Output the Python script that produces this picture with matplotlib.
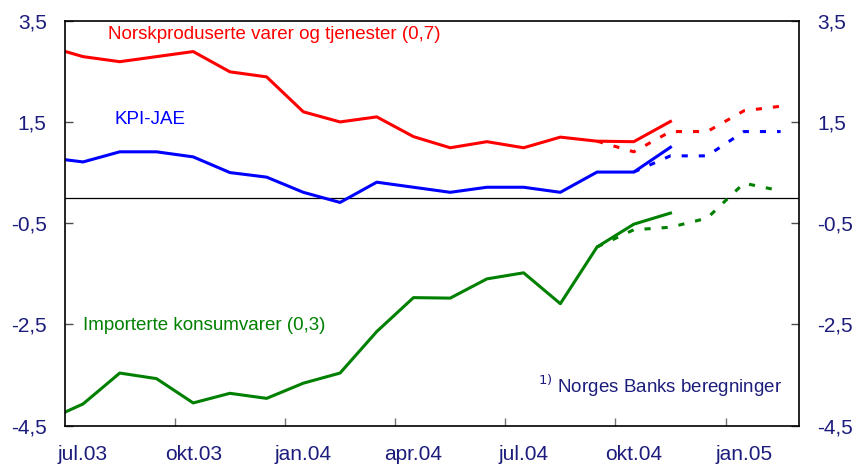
"""
KPI-JAE med delindekser: norskproduserte varer og tjenester og importerte
konsumvarer. Heltrukket = faktisk, prikket = anslag.
"""
import matplotlib.pyplot as plt
import numpy as np

plt.rcParams['font.family'] = ['Liberation Sans', 'DejaVu Sans']

# måneder (jun.03 ligger utenfor aksen og blir klippet)
months = ['jun.03', 'jul.03', 'aug.03', 'sep.03', 'okt.03', 'nov.03', 'des.03',
          'jan.04', 'feb.04', 'mar.04', 'apr.04', 'mai.04', 'jun.04', 'jul.04',
          'aug.04', 'sep.04', 'okt.04', 'nov.04', 'des.04', 'jan.05', 'feb.05']

norsk = [3.00, 2.79, 2.69, 2.79, 2.89, 2.49, 2.39, 1.70, 1.50, 1.60, 1.21,
         0.99, 1.11, 0.99, 1.20, 1.12, 1.11, 1.51]
kpi_jae = [0.80, 0.71, 0.91, 0.91, 0.81, 0.50, 0.41, 0.11, -0.09, 0.31, 0.21,
           0.11, 0.21, 0.21, 0.11, 0.51, 0.51, 1.00]
import_ = [-4.40, -4.07, -3.46, -3.57, -4.05, -3.86, -3.96, -3.66, -3.46, -2.64,
           -1.97, -1.98, -1.60, -1.48, -2.09, -0.97, -0.52, -0.30]

# anslag
norsk_proj_start, norsk_proj = 'sep.04', [1.12, 0.91, 1.31, 1.31, 1.72, 1.81]
kpi_proj_start, kpi_proj = 'okt.04', [0.51, 0.83, 0.83, 1.31, 1.31]
import_proj_start, import_proj = 'sep.04', [-0.97, -0.63, -0.58, -0.40, 0.29, 0.14]

tick_months = ['jul.03', 'okt.03', 'jan.04', 'apr.04', 'jul.04', 'okt.04', 'jan.05']
yticks = [3.5, 1.5, -0.5, -2.5, -4.5]

RED, BLUE, GREEN = '#ff0000', '#0000ff', '#008000'
NAVY = '#1c1c7c'

pos = {m: i - 1 for i, m in enumerate(months)}   # jul.03 = 0


def series_x(start, n):
    return np.arange(n) + pos[start]


fig = plt.figure(figsize=(8.58, 4.69), dpi=100)
ax = fig.add_axes([0.0754, 0.0923, 0.8558, 0.8636])

lw = 2.2
dots = (0, (2.0, 3.6))
ax.plot(series_x('jun.03', len(norsk)), norsk, color=RED, lw=lw)
ax.plot(series_x('jun.03', len(kpi_jae)), kpi_jae, color=BLUE, lw=lw)
ax.plot(series_x('jun.03', len(import_)), import_, color=GREEN, lw=lw)
ax.plot(series_x(norsk_proj_start, len(norsk_proj)), norsk_proj, color=RED, lw=lw, ls=dots)
ax.plot(series_x(kpi_proj_start, len(kpi_proj)), kpi_proj, color=BLUE, lw=lw, ls=dots)
ax.plot(series_x(import_proj_start, len(import_proj)), import_proj, color=GREEN, lw=lw, ls=dots)

ax.axhline(0, color='black', lw=0.9, zorder=1)

ax.set_xlim(-0.5, 19.5)
ax.set_ylim(-4.5, 3.5)

# akse x: streker mellom kvartaler, etiketter på første måned
ax.set_xticks([pos[m] + 2.5 for m in tick_months[:-1]])
ax.set_xticklabels([])
ax.set_xticks([pos[m] for m in tick_months], minor=True)
ax.set_xticklabels(tick_months, minor=True, color=NAVY, fontsize=15)
ax.tick_params(axis='x', which='major', direction='in', length=6, color='0.45', width=1)
ax.tick_params(axis='x', which='minor', length=0, pad=14)

ax.set_yticks(yticks)
ax.set_yticklabels([f'{v:.1f}'.replace('.', ',') for v in yticks], color=NAVY, fontsize=15)
ax.tick_params(axis='y', direction='in', length=6, color='0.3', width=1,
               left=True, right=True, labelleft=True, labelright=True, pad=13)

for s in ax.spines.values():
    s.set_linewidth(1.2)

ax.text(0.67, 3.22, 'Norskproduserte varer og tjenester (0,7)', color=RED, fontsize=13.5,
        va='center', ha='left')
ax.text(0.86, 1.55, 'KPI-JAE', color=BLUE, fontsize=13.5, va='center', ha='left')
ax.text(0.0, -2.52, 'Importerte konsumvarer (0,3)', color=GREEN, fontsize=13.5,
        va='center', ha='left')
ax.text(19.05, -3.72, r'$^{1)}$ Norges Banks beregninger', color=NAVY, fontsize=13.5,
        va='center', ha='right')

fig.savefig('out.png', dpi=100)
